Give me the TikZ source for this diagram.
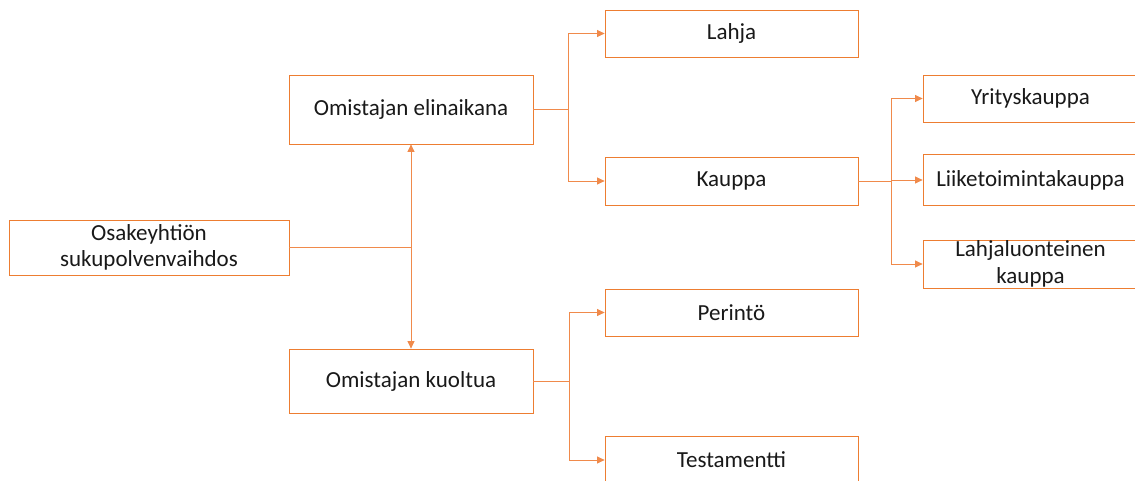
\documentclass[tikz,border=0pt]{standalone}
\usepackage{fontspec}
\setmainfont{Carlito}
\usetikzlibrary{arrows.meta}
\definecolor{accent}{HTML}{ED7D31}
\definecolor{linkc}{HTML}{F08A4B}
\begin{document}
\begin{tikzpicture}[x=1pt,y=-1pt,
  box/.style={draw=accent,line width=0.8pt,fill=white,rectangle,inner sep=0pt,
    align=center,font=\fontsize{23}{26.5}\selectfont,text=black!90},
  link/.style={draw=linkc,line width=0.8pt},
  tip/.style={-{Triangle[length=7.5pt,width=7pt]}},
  bitip/.style={{Triangle[length=7.5pt,width=7pt]}-{Triangle[length=7.5pt,width=7pt]}}]
\clip (0,0) rectangle (1135,481);
\useasboundingbox (0,0) rectangle (1135,481);
% first level
\node[box,minimum width=280pt,minimum height=55pt] (root) at (149,247.5) {Osakeyhtiön\\sukupolvenvaihdos};
\node[box,minimum width=244pt,minimum height=69pt] (elin) at (411,109.5) {Omistajan elinaikana};
\node[box,minimum width=244pt,minimum height=64pt] (kuol) at (411,381) {Omistajan kuoltua};
% second level
\node[box,minimum width=253pt,minimum height=47pt] (lahja) at (731.5,33.5) {Lahja};
\node[box,minimum width=253pt,minimum height=48pt] (kauppa) at (731.5,181) {Kauppa};
\node[box,minimum width=253pt,minimum height=47pt] (perinto) at (731.5,312.5) {Perintö};
\node[box,minimum width=253pt,minimum height=48pt] (testam) at (731.5,460) {Testamentti};
% third level
\node[box,minimum width=215pt,minimum height=47pt] (yritys) at (1030.5,98.5) {Yrityskauppa};
\node[box,minimum width=215pt,minimum height=51pt] (liike) at (1030.5,180) {Liiketoimintakauppa};
\node[box,minimum width=215pt,minimum height=48pt] (lahjal) at (1030.5,264) {Lahjaluonteinen\\kauppa};
% connectors
\draw[link,bitip] (elin.south) -- (kuol.north);
\draw[link] (root.east) -- (root.east -| elin.south);
\draw[link,tip] (elin.east) -- ++(35,0) |- (lahja.west);
\draw[link,tip] (elin.east) -- ++(35,0) |- (kauppa.west);
\draw[link,tip] (kuol.east) -- ++(36,0) |- (perinto.west);
\draw[link,tip] (kuol.east) -- ++(36,0) |- (testam.west);
\draw[link,tip] (kauppa.east) -- ++(33,0) |- (yritys.west);
\draw[link,tip] (kauppa.east) -- ++(33,0) |- (liike.west);
\draw[link,tip] (kauppa.east) -- ++(33,0) |- (lahjal.west);
\end{tikzpicture}
\end{document}
